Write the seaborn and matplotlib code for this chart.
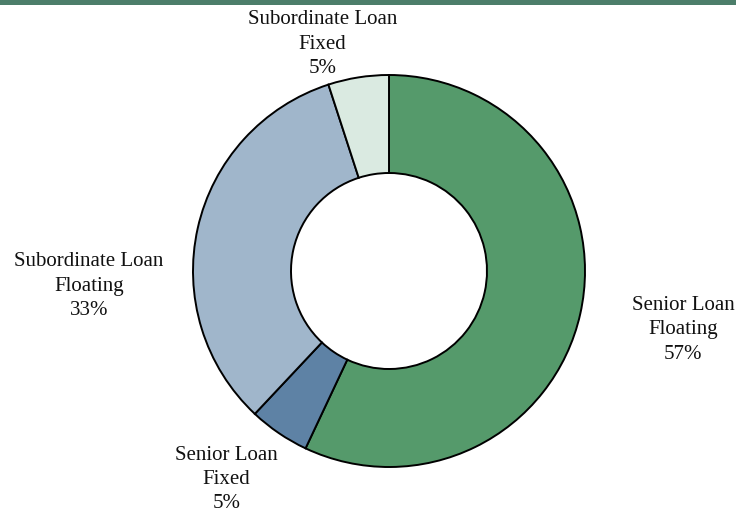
import matplotlib
matplotlib.use("Agg")
import matplotlib.pyplot as plt
from matplotlib.patches import Rectangle
import seaborn as sns

categories = ["Senior Loan\nFloating", "Senior Loan\nFixed",
              "Subordinate Loan\nFloating", "Subordinate Loan\nFixed"]
shares = [57, 5, 33, 5]
colors = ["#559A6B", "#5E82A5", "#A0B6CB", "#DAEAE1"]
# label anchor points, in units of the outer radius
label_xy = [(1.50, -0.30), (-0.83, -1.063), (-1.53, -0.078), (-0.34, 1.157)]

sns.set_theme(style="white")
plt.rcParams["font.family"] = ["Liberation Serif", "DejaVu Serif"]

fig = plt.figure(figsize=(7.36, 5.12), dpi=100)
ax = fig.add_axes([0, 0, 1, 1])

ax.pie(shares, colors=colors, startangle=90, counterclock=False, radius=1,
       wedgeprops=dict(width=0.5, edgecolor="black", linewidth=1.4))

for name, val, (x, y) in zip(categories, shares, label_xy):
    ax.text(x, y, f"{name}\n{val}%", ha="center", va="center",
            fontsize=15, linespacing=1.38, color="#111111")

ax.set_xlim(-389 / 196, (736 - 389) / 196)
ax.set_ylim(-(512 - 271) / 196, 271 / 196)
ax.set_aspect("auto")
ax.axis("off")

# thin band across the top edge
fig.patches.append(Rectangle((0, 1 - 5 / 512), 1, 5 / 512, transform=fig.transFigure,
                             facecolor="#4C7E6A", edgecolor="none", zorder=5))

fig.savefig("out.png", dpi=100)
